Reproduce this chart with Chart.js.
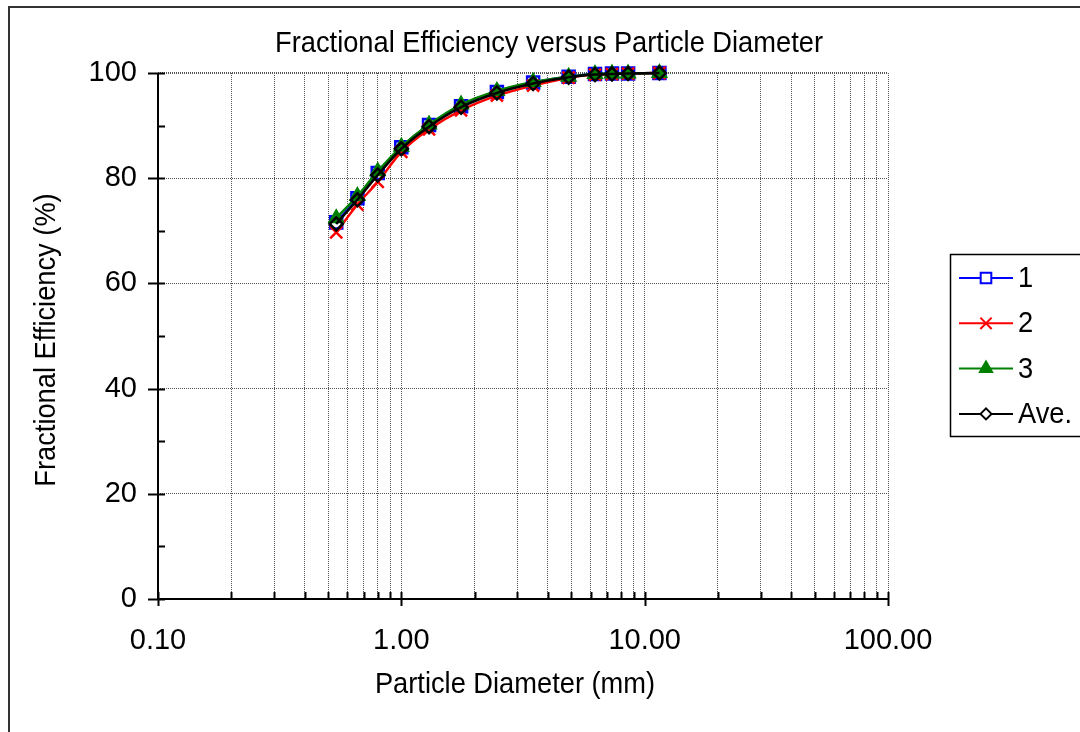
<!DOCTYPE html>
<html>
<head>
<meta charset="utf-8">
<script src="https://cdn.jsdelivr.net/npm/chart.js@4.4.1/dist/chart.umd.min.js"></script>
<style>
  html, body { margin: 0; padding: 0; background: #fff; }
</style>
</head>
<body>
<canvas id="myChart" width="1080" height="732"></canvas>
<script>
// particle diameter (mm)
var diameters = [0.54, 0.66, 0.80, 1.00, 1.30, 1.76, 2.47, 3.48, 4.87, 6.25, 7.34, 8.55, 11.5];
var run1 = [71.6, 76.2, 81.0, 85.9, 90.1, 93.7, 96.4, 98.2, 99.3, 99.8, 99.9, 99.9, 100];
var run2 = [69.7, 75.0, 79.3, 85.0, 89.3, 92.9, 95.7, 97.6, 99.1, 99.7, 99.8, 99.9, 100];
var run3 = [72.4, 76.6, 81.3, 86.0, 90.2, 94.0, 96.6, 98.3, 99.3, 99.8, 99.9, 99.9, 100];
var average = [71.3, 75.9, 80.6, 85.6, 89.8, 93.5, 96.2, 98.0, 99.2, 99.7, 99.8, 99.9, 100];

var seriesNames = ['1', '2', '3', 'Ave.'];
var xTicks = [0.1, 0.2, 0.3, 0.4, 0.5, 0.6, 0.7, 0.8, 0.9, 1, 2, 3, 4, 5, 6, 7, 8, 9, 10, 20, 30, 40, 50, 60, 70, 80, 90, 100];
var yTicks = [0, 10, 20, 30, 40, 50, 60, 70, 80, 90, 100];

var fontFam = '"Liberation Sans", Arial, sans-serif';

function pts(ys) {
    return diameters.map((d, i) => ({ x: d, y: ys[i] }));
}
function isDecade(v) {
    var l = Math.log10(v);
    return Math.abs(l - Math.round(l)) < 1e-9;
}

var styles = [
    { color: '#0000ff', point: 'rect', fill: 'rgba(0,0,0,0)', radius: 8.5, legendR: 7.5 },
    { color: '#ff0000', point: 'crossRot', fill: '#ff0000', radius: 8.5, legendR: 8 },
    { color: '#008000', point: 'triangle', fill: '#008000', radius: 7.5, legendR: 7 },
    { color: '#000000', point: 'rectRot', fill: 'rgba(0,0,0,0)', radius: 6.5, legendR: 5.5 }
];
var allData = [run1, run2, run3, average];

// draws a condensed text (the original uses a narrow face)
function narrowText(c, txt, x, y, rot) {
    c.save();
    c.translate(x, y);
    if (rot) c.rotate(rot);
    c.scale(0.94, 1);
    c.fillText(txt, 0, 0);
    c.restore();
}

// frame, titles, axis lines, tick marks and legend
var extras = {
    id: 'extras',
    afterDraw: function(chart) {
        var c = chart.ctx;
        var a = chart.chartArea;
        var xs = chart.scales.x, ys = chart.scales.y;
        c.save();
        // outer frame
        c.strokeStyle = '#333';
        c.lineWidth = 2;
        c.beginPath();
        c.moveTo(1090, 7);
        c.lineTo(9, 7);
        c.lineTo(9, 740);
        c.stroke();

        // axis lines
        c.strokeStyle = '#000';
        c.lineWidth = 2;
        c.beginPath();
        c.moveTo(a.left, a.top);
        c.lineTo(a.left, a.bottom);
        c.lineTo(a.right, a.bottom);
        c.stroke();
        // x tick marks
        xTicks.forEach(v => {
            var px = Math.round(xs.getPixelForValue(v)) + 0.5;
            c.beginPath();
            c.moveTo(px, a.bottom - 7);
            c.lineTo(px, a.bottom + (isDecade(v) ? 7 : 0));
            c.stroke();
        });
        // y tick marks
        yTicks.forEach(v => {
            var py = Math.round(ys.getPixelForValue(v)) + 0.5;
            c.beginPath();
            c.moveTo(a.left + 7, py);
            c.lineTo(a.left - (v % 20 === 0 ? 10 : 0), py);
            c.stroke();
        });

        // texts
        c.fillStyle = '#000';
        c.textAlign = 'center';
        c.textBaseline = 'middle';
        c.font = '29px ' + fontFam;
        narrowText(c, 'Fractional Efficiency versus Particle Diameter', 549, 44);
        narrowText(c, 'Particle Diameter (mm)', 515, 685);
        narrowText(c, 'Fractional Efficiency (%)', 47, 340, -Math.PI / 2);

        // legend
        c.strokeStyle = '#000';
        c.lineWidth = 1.5;
        c.strokeRect(950.5, 254.5, 200, 182);
        seriesNames.forEach((name, i) => {
            var y = 278 + i * 45.3;
            var s = styles[i];
            c.strokeStyle = s.color;
            c.lineWidth = 2;
            c.beginPath();
            c.moveTo(959, y);
            c.lineTo(1013, y);
            c.stroke();
            c.fillStyle = s.point === 'rect' || s.point === 'rectRot' ? '#fff' : s.fill;
            Chart.helpers.drawPoint(c, { pointStyle: s.point, radius: s.legendR, borderWidth: 2 }, 986, y);
            c.fillStyle = '#000';
            c.textAlign = 'left';
            c.font = '29px ' + fontFam;
            narrowText(c, name, 1018, y + 1);
        });
        c.restore();
    }
};

var ctx = document.getElementById('myChart').getContext('2d');
var myChart = new Chart(ctx, {
    type: 'line',
    data: {
        datasets: allData.map((d, i) => ({
            label: seriesNames[i],
            data: pts(d),
            borderColor: styles[i].color,
            backgroundColor: styles[i].fill,
            pointStyle: styles[i].point,
            pointRadius: styles[i].radius,
            pointBorderWidth: 2.5,
            pointBorderColor: styles[i].color,
            pointBackgroundColor: styles[i].fill,
            borderWidth: 2.5,
            tension: 0.25,
            clip: false,
            order: 3 - i
        }))
    },
    options: {
        responsive: false,
        animation: false,
        devicePixelRatio: 1,
        layout: { padding: { top: 73, right: 192, bottom: 0, left: 0 } },
        plugins: {
            legend: { display: false },
            title: { display: false },
            tooltip: { enabled: false }
        },
        scales: {
            x: {
                type: 'logarithmic',
                min: 0.1,
                max: 100,
                afterBuildTicks: function(scale) {
                    scale.ticks = xTicks.map(v => ({ value: v }));
                },
                afterFit: function(scale) { scale.height = 133; },
                ticks: {
                    autoSkip: false,
                    maxRotation: 0,
                    padding: 25,
                    color: '#000',
                    font: { family: fontFam, size: 29 },
                    callback: function(value) {
                        return isDecade(value) ? Number(value).toFixed(2) : '';
                    }
                },
                grid: {
                    drawTicks: false,
                    color: '#555',
                    lineWidth: 1
                },
                border: { display: false, dash: [1, 1] }
            },
            y: {
                min: 0,
                max: 100,
                afterBuildTicks: function(scale) {
                    scale.ticks = yTicks.map(v => ({ value: v }));
                },
                afterFit: function(scale) { scale.width = 158; },
                ticks: {
                    autoSkip: false,
                    padding: 21,
                    color: '#000',
                    font: { family: fontFam, size: 29 },
                    callback: function(value) {
                        return value % 20 === 0 ? value : '';
                    }
                },
                grid: {
                    drawTicks: false,
                    color: function(c) {
                        var v = c.tick ? c.tick.value : 0;
                        return (v % 20 === 0 && v !== 0) ? '#555' : 'rgba(0,0,0,0)';
                    },
                    lineWidth: function(c) {
                        return c.tick && c.tick.value === 100 ? 2 : 1;
                    }
                },
                border: { display: false, dash: [1, 1] }
            }
        }
    },
    plugins: [extras]
});
</script>
</body>
</html>
